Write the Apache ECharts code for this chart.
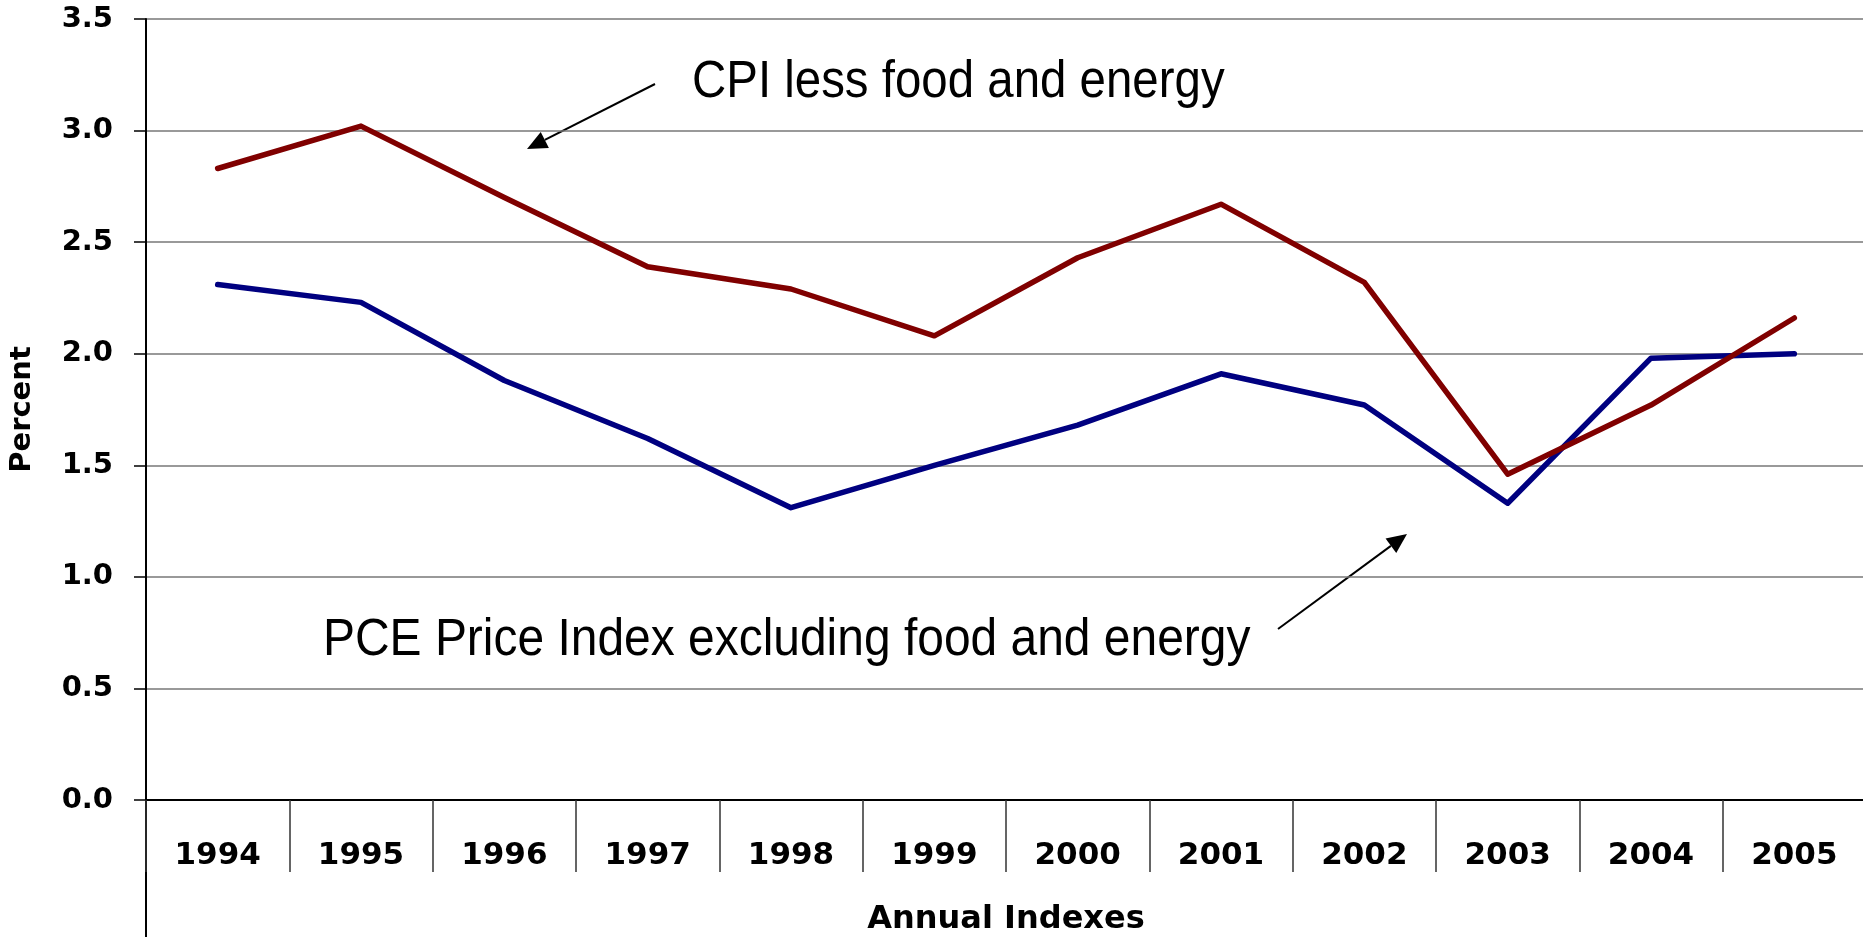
<!DOCTYPE html>
<html>
<head>
<meta charset="utf-8">
<script src="https://cdn.jsdelivr.net/npm/echarts@6/dist/echarts.min.js"></script>
<style>
html,body{margin:0;padding:0;background:#fff;}
#chart{width:1863px;height:937px;}
</style>
</head>
<body>
<div id="chart"></div>
<script>
const years = ['1994','1995','1996','1997','1998','1999','2000','2001','2002','2003','2004','2005'];
const cpiCore = [2.83, 3.02, 2.70, 2.39, 2.29, 2.08, 2.43, 2.67, 2.32, 1.46, 1.77, 2.16];
const pceCore = [2.31, 2.23, 1.88, 1.62, 1.31, 1.50, 1.68, 1.91, 1.77, 1.33, 1.98, 2.00];
const cpiLabel = 'CPI less food and energy';
const pceLabel = 'PCE Price Index excluding food and energy';
const xTitle = 'Annual Indexes';
const yTitle = 'Percent';

const chart = echarts.init(document.getElementById('chart'), null, {renderer:'canvas'});

function arrow(x1, y1, x2, y2) {
  const ang = Math.atan2(y2 - y1, x2 - x1);
  const len = 20, half = 9;
  const bx = x2 - len * Math.cos(ang), by = y2 - len * Math.sin(ang);
  const px = -Math.sin(ang) * half, py = Math.cos(ang) * half;
  return [
    {type:'line', shape:{x1:x1, y1:y1, x2:bx, y2:by}, style:{stroke:'#000', lineWidth:2}},
    {type:'polygon', shape:{points:[[x2,y2],[bx+px,by+py],[bx-px,by-py]]}, style:{fill:'#000'}}
  ];
}

const gridLeft = 146, gridTop = 19, gridW = 1720, gridH = 781;
const annFont = '51px "Liberation Sans", Arial, sans-serif';

chart.setOption({
  animation:false,
  backgroundColor:'#fff',
  grid:{left:gridLeft, top:gridTop, width:gridW, height:gridH, containLabel:false, outerBoundsMode:'none'},
  xAxis:{
    type:'category',
    data:years,
    boundaryGap:true,
    name:xTitle,
    nameLocation:'middle',
    nameGap:104,
    nameTextStyle:{fontFamily:'DejaVu Sans', fontWeight:'bold', fontSize:32, color:'#000'},
    axisLine:{show:true, onZero:false, lineStyle:{color:'#000', width:2}},
    axisTick:{show:true, length:72, alignWithLabel:false, lineStyle:{color:'#333', width:1.5}},
    axisLabel:{margin:40, fontFamily:'DejaVu Sans', fontWeight:'bold', fontSize:31, color:'#000'},
    splitLine:{show:false}
  },
  yAxis:{
    type:'value',
    min:0, max:3.5, interval:0.5,
    name:yTitle,
    nameLocation:'middle',
    nameRotate:90,
    nameGap:109,
    nameTextStyle:{fontFamily:'DejaVu Sans', fontWeight:'bold', fontSize:29, color:'#000'},
    axisLine:{show:true, lineStyle:{color:'#000', width:2}},
    axisTick:{show:true, length:12, inside:false, lineStyle:{color:'#000', width:1.5}},
    axisLabel:{margin:33, fontFamily:'DejaVu Sans', fontWeight:'bold', fontSize:29, color:'#000',
      formatter:function(v){return v.toFixed(1);}},
    splitLine:{show:true, lineStyle:{color:'#777', width:1.5}}
  },
  series:[
    {name:cpiLabel, type:'line', data:cpiCore, showSymbol:false, symbol:'none',
     lineStyle:{color:'#800000', width:5.5, join:'round', cap:'round'}, z:3},
    {name:pceLabel, type:'line', data:pceCore, showSymbol:false, symbol:'none',
     lineStyle:{color:'#000080', width:5.5, join:'round', cap:'round'}, z:2}
  ],
  graphic:[
    {type:'line', shape:{x1:gridLeft, y1:gridTop+gridH, x2:gridLeft, y2:937}, style:{stroke:'#000', lineWidth:2}},
    {type:'text', x:692, y:83, scaleX:0.93, style:{text:cpiLabel, x:0, y:0, font:annFont, fill:'#000', textAlign:'left', textVerticalAlign:'middle'}},
    {type:'text', x:323, y:641, scaleX:0.94, style:{text:pceLabel, x:0, y:0, font:annFont, fill:'#000', textAlign:'left', textVerticalAlign:'middle'}}
  ].concat(arrow(655, 84, 527, 149)).concat(arrow(1278, 629, 1407, 534))
});
</script>
</body>
</html>
